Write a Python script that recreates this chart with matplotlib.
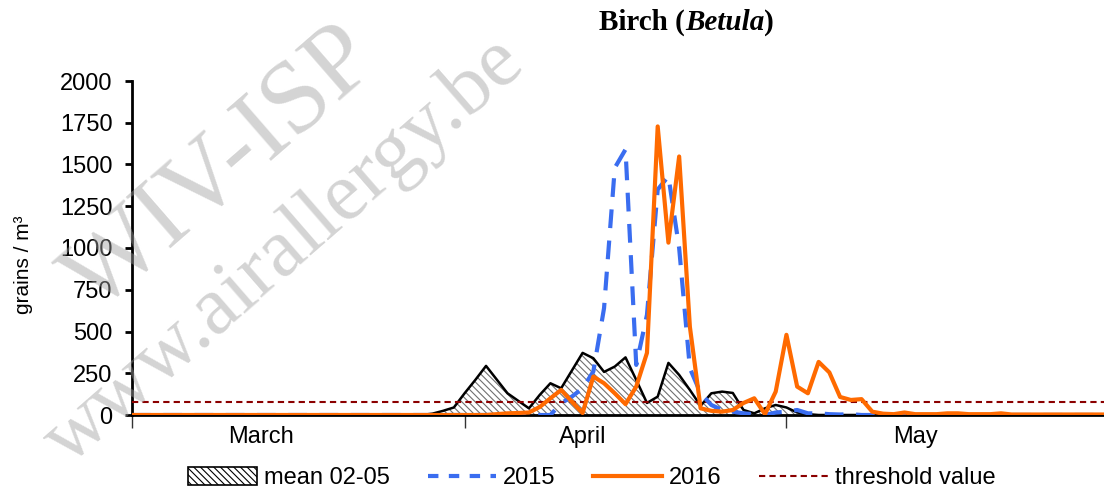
import matplotlib.pyplot as plt
from matplotlib.patches import Patch
from matplotlib.lines import Line2D
import numpy as np

# daily pollen counts, 1 March (day 0) .. 31 May (day 91)
mean_02_05 = [0] * 28 + [
    8, 25, 45, 130, 210, 294, 212, 130, 85, 40,
    120, 190, 160, 266, 372, 340, 258, 290, 345, 210,
    72, 110, 312, 240, 150, 55, 130, 140, 132, 30,
    10, 40, 60, 45, 15, 5] + [0] * 28
y2015 = [0] * 40 + [
    70, 110, 160, 260, 640, 1480, 1590, 300, 600, 1350,
    1430, 1000, 280, 130, 60, 30, 20, 10, 5, 0,
    15, 20, 30, 10, 10, 5, 3, 5] + [0] * 24
y2016 = [0] * 34 + [
    5, 10, 12, 15, 48, 100, 150, 80, 12, 230,
    190, 130, 65, 170, 372, 1728, 1032, 1548, 528, 40,
    25, 20, 30, 72, 100, 5, 140, 480, 170, 130,
    318, 255, 108, 90, 95, 20, 8, 5, 15, 5,
    5, 5, 10, 10, 5, 5, 5, 10] + [3] * 10
threshold = 80
months = ["March", "April", "May"]
month_starts = [0, 31, 61]
label_pos = [12, 42, 73]

days = np.arange(len(y2016))

plt.rcParams['font.family'] = ['Liberation Sans', 'DejaVu Sans']
plt.rcParams['hatch.linewidth'] = 0.8

fig = plt.figure(figsize=(11.04, 4.94), dpi=100)
ax = fig.add_axes([132 / 1104, 79 / 494, 972 / 1104, 334 / 494])

###mean 02-05 as hatched area
ax.fill_between(days, 0, mean_02_05, facecolor='white', edgecolor='#707070',
                linewidth=0, hatch='\\\\\\\\\\', zorder=1)
ax.plot(days, mean_02_05, color='black', lw=1.8, zorder=2)
ax.axhline(threshold, color='#8b0000', lw=1.5, dashes=(3, 2), zorder=3)
ax.plot(days, y2015, color='#3a6df0', lw=3, dashes=(4.5, 3), zorder=4)
ax.plot(days, y2016, color='#ff6a00', lw=3, zorder=5)

ax.set_xlim(0, 90.6)
ax.set_ylim(0, 2000)
ax.set_yticks(range(0, 2001, 250))
ax.tick_params(axis='y', labelsize=17, length=5, width=2, pad=9)
ax.set_xticks(month_starts)
ax.set_xticklabels([])
ax.set_xticks(label_pos, months, minor=True)
ax.tick_params(axis='x', which='major', length=9, width=1, color='#333333')
ax.tick_params(axis='x', which='minor', length=0, labelsize=17, pad=8)
for s in ['top', 'right']:
    ax.spines[s].set_visible(False)
ax.spines['left'].set_linewidth(2)
ax.spines['bottom'].set_linewidth(2)
ax.set_ylabel("grains / m³", fontsize=15)
ax.yaxis.set_label_coords(-99 / 972, 0.45)

###title in pieces for the italic genus
t1 = fig.text(599 / 1104, 1 - 22 / 494, "Birch (", family='Liberation Serif',
              fontweight='bold', fontsize=21, va='center', ha='left')
t2 = ax.annotate("Betula", xy=(1, 0), xycoords=t1, va='bottom', ha='left',
                 family='Liberation Serif', fontweight='bold', style='italic', fontsize=21)
ax.annotate(")", xy=(1, 0), xycoords=t2, va='bottom', ha='left',
            family='Liberation Serif', fontweight='bold', fontsize=21)

###legend
handles = [Patch(facecolor='white', edgecolor='black', hatch='\\\\\\\\\\', lw=1.2),
           Line2D([], [], color='#3a6df0', lw=3, dashes=(2.5, 2.5)),
           Line2D([], [], color='#ff6a00', lw=3),
           Line2D([], [], color='#8b0000', lw=1.5, dashes=(3, 2))]
fig.legend(handles, ["mean 02-05", "2015", "2016", "threshold value"],
           loc='center', bbox_to_anchor=(592 / 1104, 1 - 478 / 494), ncol=4,
           frameon=False, fontsize=17, handlelength=2.9, handleheight=0.8,
           columnspacing=1.6, handletextpad=0.3)

###watermark
fig.text(222 / 1104, 1 - 170 / 494, "WIV-ISP", family='Liberation Serif',
         fontsize=74, color='#a0a0a0', alpha=0.45, rotation=41,
         ha='center', va='center', zorder=10)
fig.text(285 / 1104, 1 - 252 / 494, "www.airallergy.be", family='Liberation Serif',
         fontsize=60, color='#a0a0a0', alpha=0.45, rotation=41,
         ha='center', va='center', zorder=10)

fig.savefig("out.png", dpi=100)
